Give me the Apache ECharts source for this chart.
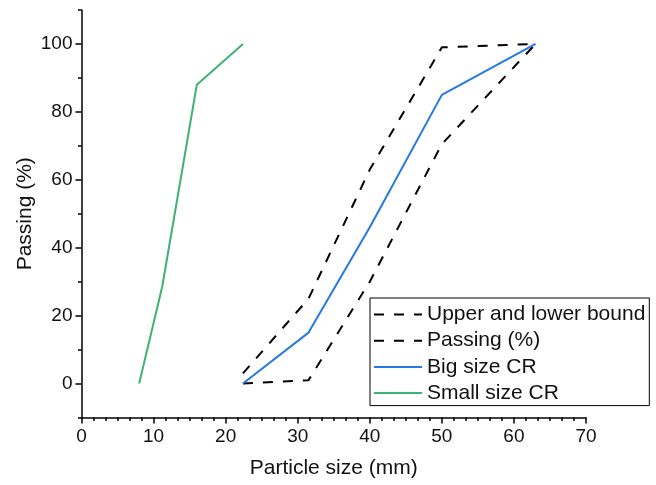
<!DOCTYPE html>
<html>
<head>
<meta charset="utf-8">
<script src="https://cdn.jsdelivr.net/npm/echarts@6/dist/echarts.min.js"></script>
<style>
  html, body { margin: 0; padding: 0; background: #fff; }
  #chart { width: 656px; height: 485px; }
</style>
</head>
<body>
<div id="chart"></div>
<script>
// Sieve sizes (mm) and cumulative passing (%)
const boundSizes = [22.4, 31.5, 40, 50, 63];
const upperBound = [3, 25, 63, 99, 100];
const lowerBound = [0, 1, 30, 70.5, 100];

const bigSizes = [22.4, 31.5, 40, 50, 63];
const bigPassing = [0, 15, 46, 85, 100];

const smallSizes = [8, 11.2, 16, 22.4];
const smallPassing = [0, 28.5, 88, 100];

// Axis ticks
const yMajorTicks = [0, 20, 40, 60, 80, 100];
const yMinorTicks = [-10, 10, 30, 50, 70, 90, 110];

const seriesNames = ['Upper and lower bound', 'Passing (%)', 'Big size CR', 'Small size CR'];

const pairs = (xs, ys) => xs.map((x, i) => [x, ys[i]]);

const FONT = 'Liberation Sans, Arial, sans-serif';
const BLACK = '#000';
const dashed = { color: BLACK, width: 2, type: [10, 10] };

const chart = echarts.init(document.getElementById('chart'), null, { renderer: 'canvas' });

chart.setOption({
  animation: false,
  backgroundColor: '#fff',
  textStyle: { fontFamily: FONT },
  grid: { left: 81.5, right: 70, top: 10, bottom: 67.5, containLabel: false },
  legend: {
    orient: 'vertical',
    left: 370,
    top: 298,
    data: seriesNames,
    itemWidth: 48,
    itemHeight: 14,
    itemGap: 5.2,
    padding: [6, 4, 2, 3],
    borderColor: BLACK,
    borderWidth: 1,
    borderRadius: 0,
    backgroundColor: '#fff',
    itemStyle: { opacity: 0, borderWidth: 0 },
    lineStyle: { width: 2 },
    textStyle: { fontFamily: FONT, fontSize: 21, color: '#111', lineHeight: 21 }
  },
  xAxis: {
    type: 'value',
    min: 0,
    max: 70,
    interval: 10,
    name: 'Particle size (mm)',
    nameLocation: 'middle',
    nameGap: 40,
    nameMoveOverlap: false,
    nameTextStyle: { fontFamily: FONT, fontSize: 21, color: '#111' },
    axisLine: { show: true, onZero: false, lineStyle: { color: BLACK, width: 1.5 } },
    axisTick: { show: true, inside: false, length: 6, lineStyle: { color: BLACK, width: 1.5 } },
    minorTick: { show: true, splitNumber: 6, length: 3.5, lineStyle: { color: BLACK, width: 1.5 } },
    axisLabel: { fontFamily: FONT, fontSize: 19, color: '#111', margin: 10 },
    splitLine: { show: false },
    minorSplitLine: { show: false }
  },
  yAxis: [
    {
      type: 'value',
      min: -10,
      max: 110,
      position: 'left',
      name: 'Passing (%)',
      nameLocation: 'middle',
      nameGap: 46,
      nameMoveOverlap: false,
      nameTextStyle: { fontFamily: FONT, fontSize: 21, color: '#111' },
      axisLine: { show: true, onZero: false, lineStyle: { color: BLACK, width: 1.5 } },
      axisTick: { show: true, inside: false, length: 6, customValues: yMajorTicks, lineStyle: { color: BLACK, width: 1.5 } },
      axisLabel: { fontFamily: FONT, fontSize: 19, color: '#111', margin: 9, customValues: yMajorTicks },
      splitLine: { show: false }
    },
    {
      type: 'value',
      min: -10,
      max: 110,
      position: 'left',
      axisLine: { show: false },
      axisTick: { show: true, inside: false, length: 3.5, customValues: yMinorTicks, lineStyle: { color: BLACK, width: 1.5 } },
      axisLabel: { show: false },
      splitLine: { show: false }
    }
  ],
  series: [
    {
      name: seriesNames[0],
      type: 'line',
      symbol: 'none',
      data: pairs(boundSizes, upperBound),
      lineStyle: dashed,
      itemStyle: { color: BLACK },
      z: 3
    },
    {
      name: seriesNames[1],
      type: 'line',
      symbol: 'none',
      data: pairs(boundSizes, lowerBound),
      lineStyle: dashed,
      itemStyle: { color: BLACK },
      z: 3
    },
    {
      name: seriesNames[2],
      type: 'line',
      symbol: 'none',
      data: pairs(bigSizes, bigPassing),
      lineStyle: { color: '#2479e3', width: 2 },
      itemStyle: { color: '#2479e3' },
      z: 4
    },
    {
      name: seriesNames[3],
      type: 'line',
      symbol: 'none',
      data: pairs(smallSizes, smallPassing),
      lineStyle: { color: '#3db272', width: 2 },
      itemStyle: { color: '#3db272' },
      z: 4
    }
  ]
});
</script>
</body>
</html>
